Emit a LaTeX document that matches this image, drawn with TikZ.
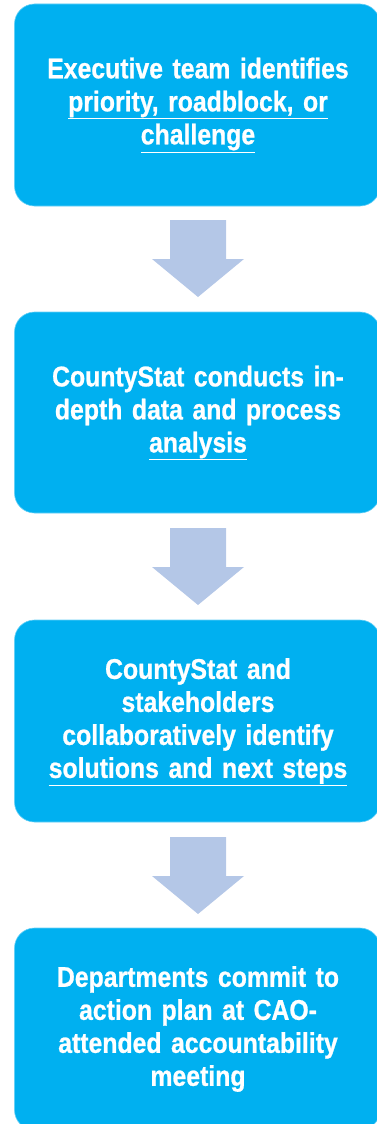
\documentclass[tikz,border=0pt]{standalone}
\usepackage{fontspec}
\setmainfont{Liberation Sans}[FakeStretch=0.87,BoldFeatures={FakeBold=0.8}]
\begin{document}
\begin{tikzpicture}[x=1pt,y=-1pt,
  stepbox/.style={fill=boxblue, draw=boxblue!60!white, line width=0.6pt, rounded corners=20pt},
  steptext/.style={text=white, font=\bfseries\fontsize{28.5}{33}\selectfont, align=center, text width=360pt},
  downarrow/.style={fill=arrowblue, draw=none}]
\definecolor{boxblue}{HTML}{00B0F0}
\definecolor{arrowblue}{HTML}{B4C7E7}
\useasboundingbox (0,0) rectangle (377,1124);
% boxes
\path[stepbox] (14.5,4) rectangle (380,206);
\path[stepbox] (14.5,312) rectangle (380,513);
\path[stepbox] (14.5,620) rectangle (380,822);
\path[stepbox] (14.5,928) rectangle (380,1130);
% texts
\node[steptext] (t1) at (198,105) {Executive team identifies\\\underline{priority, roadblock, or}\\\underline{challenge}};
\node[steptext] (t2) at (198,413) {CountyStat conducts in-\\depth data and process\\\underline{analysis}};
\node[steptext] (t3) at (198,722) {CountyStat and\\stakeholders\\collaboratively identify\\\underline{solutions and next steps}};
\node[steptext] (t4) at (198,1029) {Departments commit to\\action plan at CAO-\\attended accountability\\meeting};
% arrows
\foreach \y in {220,528,837}{
  \path[downarrow] (170,\y) -- (226,\y) -- (226,\y+39) -- (244,\y+39) -- (198,\y+77) -- (152,\y+39) -- (170,\y+39) -- cycle;
}
\end{tikzpicture}
\end{document}
